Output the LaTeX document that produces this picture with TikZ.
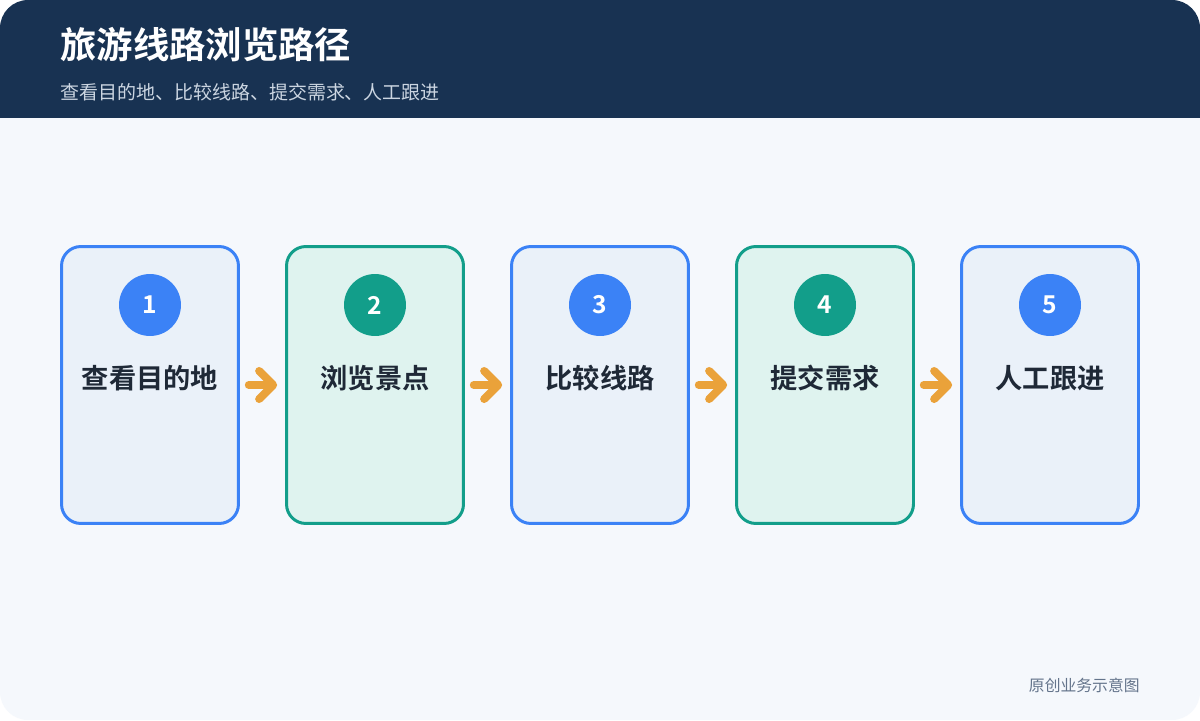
\documentclass[tikz,border=0pt]{standalone}
\usepackage{fontspec}
\setmainfont{Noto Sans CJK SC}
\newfontfamily\cjkbold{Noto Sans CJK SC Bold}
\usetikzlibrary{positioning,arrows.meta}
\definecolor{headblue}{HTML}{183252}
\definecolor{pagebg}{HTML}{F5F8FC}
\definecolor{stepblue}{HTML}{3B82F6}
\definecolor{stepbluebg}{HTML}{EAF1F9}
\definecolor{stepgreen}{HTML}{129E8A}
\definecolor{stepgreenbg}{HTML}{DFF3EF}
\definecolor{flowarrow}{HTML}{EAA23A}
\definecolor{labeltext}{HTML}{1F2937}
\definecolor{subtext}{HTML}{CBD5E1}
\definecolor{foottext}{HTML}{64748B}
\tikzset{
  bluebox/.style={draw=stepblue,fill=stepbluebg,line width=1.7pt,rounded corners=11pt,
    minimum width=3.54cm,minimum height=5.54cm,inner sep=0pt},
  greenbox/.style={bluebox,draw=stepgreen,fill=stepgreenbg},
  bluenum/.style={circle,fill=stepblue,minimum size=1.24cm,inner sep=0pt,
    text=white,font=\cjkbold\fontsize{14}{15}\selectfont},
  greennum/.style={bluenum,fill=stepgreen},
  steplabel/.style={text=labeltext,font=\cjkbold\fontsize{15.5}{17}\selectfont,inner sep=0pt},
  flow/.style={draw=flowarrow,line width=4.5pt,line cap=round,
    -{Straight Barb[round,length=8pt,width=16pt]},shorten <=5pt,shorten >=4.5pt}
}
\begin{document}
\begin{tikzpicture}[x=0.02cm,y=-0.02cm]
\useasboundingbox (0,0) rectangle (1200,720);
\fill[white] (0,0) rectangle (1200,720);
\begin{scope}
  \clip[rounded corners=16pt] (0,0) rectangle (1200,720);
  \fill[pagebg] (0,0) rectangle (1200,720);
  \fill[headblue] (0,0) rectangle (1200,118);
\end{scope}

% header
\node[anchor=west,text=white,inner sep=0pt,font=\cjkbold\fontsize{20.7}{23}\selectfont] (title) at (60,45) {旅游线路浏览路径};
\node[anchor=west,text=subtext,inner sep=0pt,font=\fontsize{10.8}{12}\selectfont] (subtitle) at (60,92) {查看目的地、比较线路、提交需求、人工跟进};

% steps
\node[bluebox] (b1) at (150,385) {};
\node[greenbox] (b2) at (375,385) {};
\node[bluebox] (b3) at (600,385) {};
\node[greenbox] (b4) at (825,385) {};
\node[bluebox] (b5) at (1050,385) {};

\node[bluenum] (n1) at (150,305) {1};
\node[greennum] (n2) at (375,305) {2};
\node[bluenum] (n3) at (600,305) {3};
\node[greennum] (n4) at (825,305) {4};
\node[bluenum] (n5) at (1050,305) {5};

\node[steplabel] (t1) at (150,378) {查看目的地};
\node[steplabel] (t2) at (375,378) {浏览景点};
\node[steplabel] (t3) at (600,378) {比较线路};
\node[steplabel] (t4) at (825,378) {提交需求};
\node[steplabel] (t5) at (1050,378) {人工跟进};

% arrows
\draw[flow] (b1.east |- 0,385) -- (b2.west |- 0,385);
\draw[flow] (b2.east |- 0,385) -- (b3.west |- 0,385);
\draw[flow] (b3.east |- 0,385) -- (b4.west |- 0,385);
\draw[flow] (b4.east |- 0,385) -- (b5.west |- 0,385);

% footer
\node[anchor=east,text=foottext,inner sep=0pt,font=\fontsize{9}{10}\selectfont] (foot) at (1140,685) {原创业务示意图};
\end{tikzpicture}
\end{document}
